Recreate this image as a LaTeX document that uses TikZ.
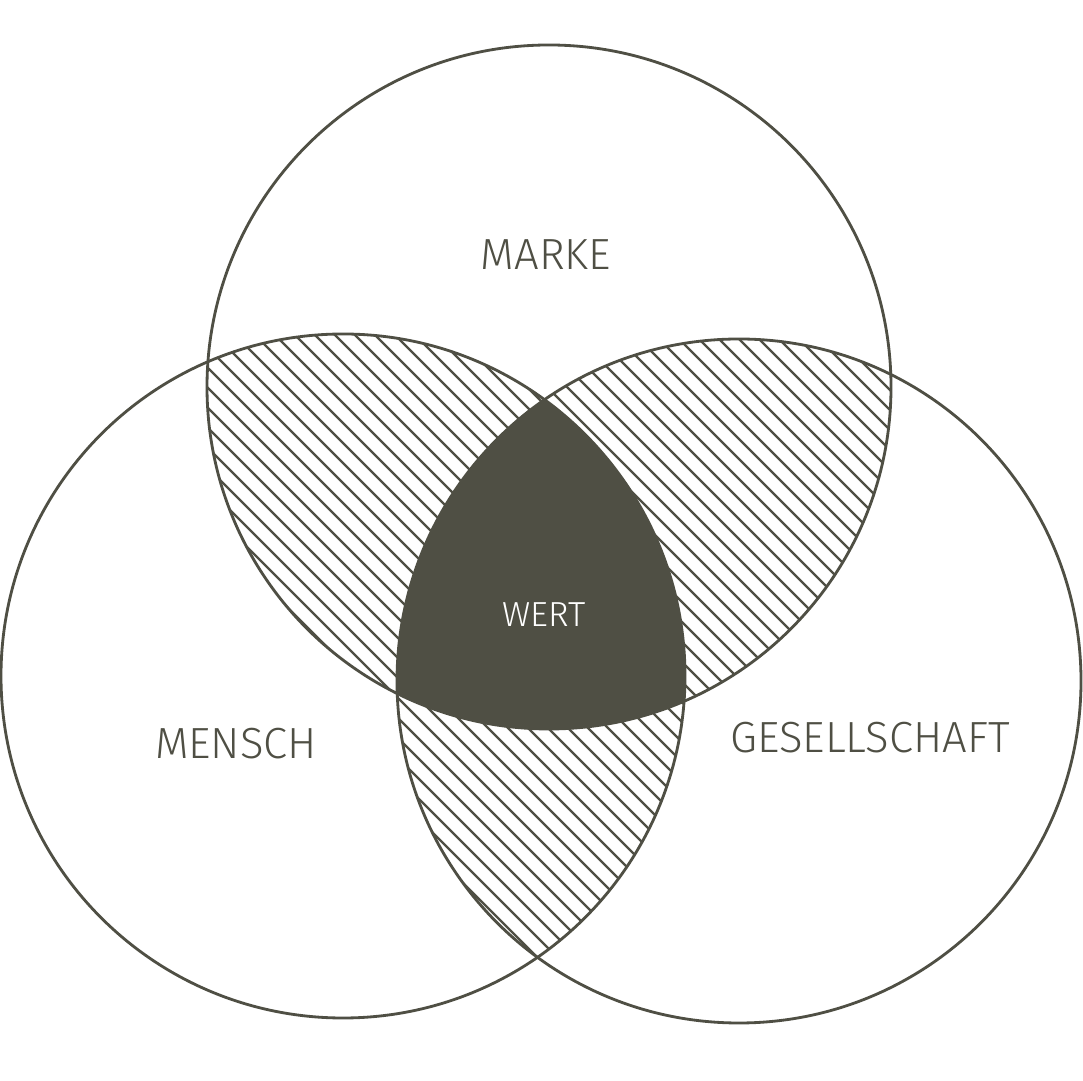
\documentclass[tikz,border=0pt]{standalone}
\usepackage{fontspec}
\newfontfamily\labelfont{Fira Sans Light}
\definecolor{venngray}{HTML}{4F4F44}
\tikzset{
  rim/.style={draw=venngray,line width=0.8pt},
  hatchline/.style={draw=venngray,line width=0.65pt},
  setlabel/.style={text=venngray,font=\labelfont\fontsize{12.4}{15}\selectfont,inner sep=0pt},
}
\begin{document}
\begin{tikzpicture}
\useasboundingbox[fill=white] (0,0) rectangle (10.83,10.80);
%\draw[step=0.5cm,gray,very thin] (0,0) grid (10.83,10.80); %background grid

\coordinate (cMarke) at (5.49,6.93);
\coordinate (cMensch) at (3.43,4.04);
\coordinate (cGesell) at (7.39,3.99);
\def\rad{3.42}

% hatching of the three lenses
\begin{scope}
\clip (cMarke) circle (\rad);
\clip (cMensch) circle (\rad);
\foreach \c in {0,0.2,...,22} \draw[hatchline] (\c,0) -- (\c-11,11);
\end{scope}
\begin{scope}
\clip (cMarke) circle (\rad);
\clip (cGesell) circle (\rad);
\foreach \c in {0,0.2,...,22} \draw[hatchline] (\c,0) -- (\c-11,11);
\end{scope}
\begin{scope}
\clip (cMensch) circle (\rad);
\clip (cGesell) circle (\rad);
\foreach \c in {0,0.2,...,22} \draw[hatchline] (\c,0) -- (\c-11,11);
\end{scope}

% common part of all three
\begin{scope}
\clip (cMarke) circle (\rad);
\clip (cMensch) circle (\rad);
\fill[venngray] (cGesell) circle (\rad);
\end{scope}

\draw[rim] (cMarke) circle (\rad);
\draw[rim] (cMensch) circle (\rad);
\draw[rim] (cGesell) circle (\rad);

\node[setlabel] (marke) at (5.46,8.25) {MARKE};
\node[setlabel] (mensch) at (2.36,3.36) {MENSCH};
\node[setlabel] (gesell) at (8.70,3.42) {GESELLSCHAFT};
\node[setlabel,text=white,font=\labelfont\fontsize{9.9}{12}\selectfont] (wert) at (5.44,4.65) {WERT};

\end{tikzpicture}
\end{document}
